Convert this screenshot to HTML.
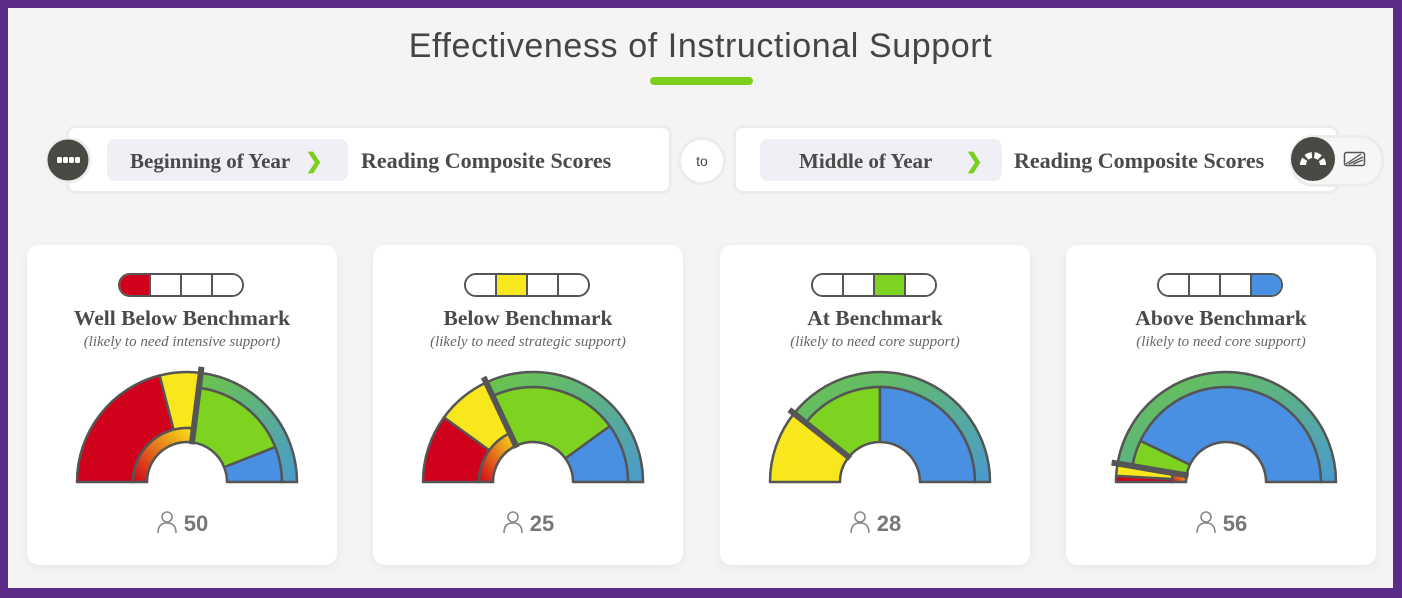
<!DOCTYPE html>
<html><head><meta charset="utf-8"><style>
body{margin:0;width:1402px;height:598px;background:#5b2d88;overflow:hidden;font-family:"Liberation Sans",sans-serif}
#frame{position:absolute;left:8px;top:8px;width:1385px;height:580px;background:#f4f4f4}
.abs{position:absolute}
.slab{font-family:"Liberation Serif",serif;font-weight:bold;color:#4a4a4a}
.box{position:absolute;background:#fff;border:3px solid #ececec;border-radius:10px}
.card{position:absolute;top:237px;width:310px;height:320px;background:#fff;border-radius:12px;box-shadow:0 3px 10px rgba(0,0,0,0.06)}
</style></head><body>
<div id="frame">
<div class="abs" style="left:0;width:1385px;top:19px;text-align:center;font-size:34px;color:#454545;letter-spacing:0.6px">Effectiveness of Instructional Support</div>
<div class="abs" style="left:642px;top:69px;width:103px;height:8px;border-radius:4px;background:#7ccf1f"></div>

<div class="box" style="left:58px;top:117px;width:600px;height:63px"></div>
<svg class="abs" style="left:37px;top:130px" width="50" height="50"><circle cx="23" cy="22" r="22" fill="#4a4a45" stroke="#eee" stroke-width="3"/><rect x="12" y="19" width="5" height="6" rx="1.5" fill="#fff"/><rect x="18" y="19" width="5" height="6" rx="1.5" fill="#fff"/><rect x="24" y="19" width="5" height="6" rx="1.5" fill="#fff"/><rect x="30" y="19" width="5" height="6" rx="1.5" fill="#fff"/></svg>
<div class="abs slab" style="left:99px;top:131px;width:241px;height:42px;border-radius:8px;background:#f1eff6;font-size:21px;line-height:44px;padding-left:23px;box-sizing:border-box;white-space:nowrap">Beginning of Year <span style="color:#7ccf1f;margin-left:10px">❯</span></div>
<div class="abs slab" style="left:353px;top:131px;font-size:22px;line-height:44px;white-space:nowrap">Reading Composite Scores</div>
<div class="abs" style="left:670px;top:129px;width:42px;height:42px;border-radius:50%;background:#fff;border:3px solid #ececec;text-align:center;line-height:42px;font-size:14px;color:#444">to</div>
<div class="box" style="left:725px;top:117px;width:600px;height:63px"></div>
<div class="abs slab" style="left:752px;top:131px;width:242px;height:42px;border-radius:8px;background:#f1eff6;font-size:21px;line-height:44px;padding-left:39px;box-sizing:border-box;white-space:nowrap">Middle of Year <span style="color:#7ccf1f;margin-left:28px">❯</span></div>
<div class="abs slab" style="left:1006px;top:131px;font-size:22px;line-height:44px;white-space:nowrap">Reading Composite Scores</div>
<div class="abs" style="left:1282px;top:127px;width:88px;height:46px;border-radius:24px;background:#f6f6f6;border:3px solid #ececec"></div>
<svg class="abs" style="left:1283px;top:129px" width="46" height="46"><circle cx="22" cy="22" r="22" fill="#4a4a45"/><path d="M12 28 A10 10 0 0 1 32 28" fill="none" stroke="#fff" stroke-width="6" stroke-dasharray="6 2.5"/></svg>
<svg class="abs" style="left:1335px;top:142px" width="24" height="18"><rect x="1.5" y="2.5" width="20" height="13" rx="2" fill="none" stroke="#555" stroke-width="1.5"/><path d="M3 14 L18 4 M6 14 L20 7 M10 14 L20 10" stroke="#555" stroke-width="1.3"/></svg>

<div id="cards"></div>
</div>
<script>
const cardTitles=["Well Below Benchmark","Below Benchmark","At Benchmark","Above Benchmark"];
const cardSubs=["(likely to need intensive support)","(likely to need strategic support)","(likely to need core support)","(likely to need core support)"];
const totals=[50,25,28,56];
const redCounts=[21,5,0,1];
const yellowCounts=[6,4,6,2];
const greenCounts=[17,11,8,5];
const blueCounts=[6,5,14,48];
const dividerAfter=[2,2,2,2];
const cardLefts=[19,365,712,1058];
const colors=["#d0021b","#f8e71c","#7ed321","#4a90e2"];
const NS="http://www.w3.org/2000/svg";
function pt(cx,cy,r,a){const t=a*Math.PI/180;return [cx+r*Math.cos(t),cy-r*Math.sin(t)];}
function sector(cx,cy,r0,r1,a0,a1){
 const p1=pt(cx,cy,r1,a0),p2=pt(cx,cy,r1,a1),p3=pt(cx,cy,r0,a1),p4=pt(cx,cy,r0,a0);
 const lg=(a0-a1)>180?1:0;
 return `M${p1[0]},${p1[1]} A${r1},${r1} 0 ${lg} 1 ${p2[0]},${p2[1]} L${p3[0]},${p3[1]} A${r0},${r0} 0 ${lg} 0 ${p4[0]},${p4[1]} Z`;
}
const cards=document.getElementById('cards');
for(let i=0;i<4;i++){
 const c=document.createElement('div');c.className='card';c.style.left=cardLefts[i]+'px';
 
 
 let seg='';
 for(let k=0;k<4;k++){seg+=`<div style="flex:1;border-left:${k?2:0}px solid #555;background:${k===i?colors[k]:'#fff'}"></div>`;}
 c.innerHTML=`<div style="position:absolute;left:91px;top:28px;width:126px;height:24px;border:2px solid #555;border-radius:12px;box-sizing:border-box;display:flex;overflow:hidden">${seg}</div>
 <div class="slab" style="position:absolute;top:61px;width:310px;text-align:center;font-size:21.5px;white-space:nowrap">${cardTitles[i]}</div>
 <div style="position:absolute;top:89px;width:310px;text-align:center;font-size:15px;font-style:italic;color:#666;font-family:'Liberation Serif',serif">${cardSubs[i]}</div>
 <div style="position:absolute;top:265px;width:310px;text-align:center;font-size:22px;font-weight:bold;color:#777"><svg width="22" height="24" style="vertical-align:-3px;margin-right:6px"><circle cx="11" cy="7" r="5" fill="none" stroke="#888" stroke-width="1.6"/><path d="M2 23 Q2 13 11 13 Q20 13 20 23" fill="none" stroke="#888" stroke-width="1.6"/></svg>${totals[i]}</div>`;
 const svg=document.createElementNS(NS,'svg');
 svg.setAttribute('width','310');svg.setAttribute('height','170');
 svg.style.position='absolute';svg.style.left='0';svg.style.top='110px';
 
 
 svg.innerHTML=`<defs><linearGradient id="og${i}" x1="0" y1="1" x2="1" y2="0"><stop offset="0" stop-color="#d0021b"/><stop offset="1" stop-color="#f8e71c"/></linearGradient><linearGradient id="bg${i}" x1="0" y1="0" x2="1" y2="1"><stop offset="0" stop-color="#6cc644"/><stop offset="1" stop-color="#4a9ad0"/></linearGradient></defs>`;
 const vals=[redCounts[i],yellowCounts[i],greenCounts[i],blueCounts[i]];
 const tot=vals.reduce((a,b)=>a+b,0);
 const cx=160,cy=127,rIn=40,rMid=54,rBand=95,rOut=110;
 const hasInner=vals[0]>0;
 let a=180,divA=180;
 for(let k=0;k<4;k++){
  const span=vals[k]/tot*180;
  const below=k<dividerAfter[i];
  if(span>0){
   const p=document.createElementNS(NS,'path');
   p.setAttribute('d',below?sector(cx,cy,hasInner?rMid:rIn,rOut,a,a-span):sector(cx,cy,rIn,rBand,a,a-span));
   p.setAttribute('fill',colors[k]);p.setAttribute('stroke','#555');p.setAttribute('stroke-width','2.5');p.setAttribute('stroke-linejoin','round');
   
   
   svg.appendChild(p);
  }
  a-=span;if(below)divA=a;
 }
 if(hasInner&&divA<180){const b=document.createElementNS(NS,'path');b.setAttribute('d',sector(cx,cy,rIn,rMid,180,divA));b.setAttribute('fill',`url(#og${i})`);b.setAttribute('stroke','#555');b.setAttribute('stroke-width','2.5');
  
  svg.appendChild(b);}
 const ob=document.createElementNS(NS,'path');ob.setAttribute('d',sector(cx,cy,rBand,rOut,divA,0));ob.setAttribute('fill',`url(#bg${i})`);ob.setAttribute('stroke','#555');ob.setAttribute('stroke-width','2.5');
 
 svg.appendChild(ob);
 const q0=pt(cx,cy,rIn-2,divA),q1=pt(cx,cy,rOut+6,divA);
 const d=document.createElementNS(NS,'line');d.setAttribute('x1',q0[0]);d.setAttribute('y1',q0[1]);d.setAttribute('x2',q1[0]);d.setAttribute('y2',q1[1]);d.setAttribute('stroke','#555');d.setAttribute('stroke-width','6');
 
 svg.appendChild(d);
 c.appendChild(svg);cards.appendChild(c);
}
</script>
</body></html>
